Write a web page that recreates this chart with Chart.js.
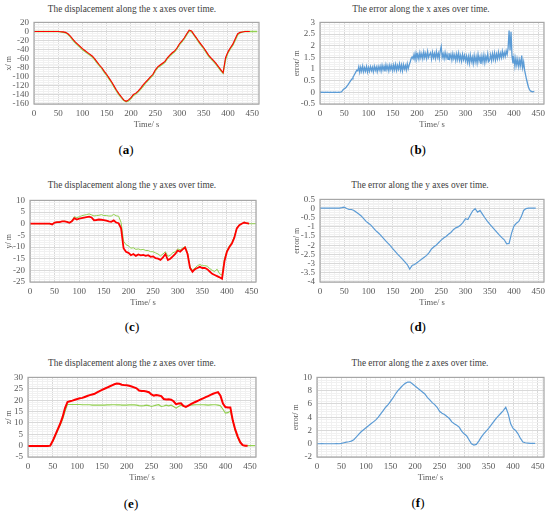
<!DOCTYPE html>
<html>
<head>
  <meta charset="UTF-8">
  <script src="https://cdn.jsdelivr.net/npm/chart.js"></script>
  <title>Displacement and error</title>
  <style>
    body { margin: 0; background: #fff; width: 550px; height: 514px; position: relative; overflow: hidden;
           font-family: "Liberation Serif", "Times New Roman", serif; }
    .box { position: absolute; }
    .ttl { position: absolute; transform: translate(-50%, -50%); white-space: nowrap; font-size: 9.3px; color: #404040; }
    .lab { position: absolute; transform: translate(-50%, -50%); white-space: nowrap; font-size: 13px; color: #000; }
  </style>
</head>
<body>
  <div class="ttl" style="left:132px;top:9px">The displacement along the x axes over time.</div>
  <div class="ttl" style="left:421px;top:9px">The error along the x axes over time.</div>
  <div class="ttl" style="left:132px;top:185px">The displacement along the y axes over time.</div>
  <div class="ttl" style="left:420px;top:185px">The error along the y axes over time.</div>
  <div class="ttl" style="left:132px;top:363px">The displacement along the z axes over time.</div>
  <div class="ttl" style="left:420px;top:363px">The error along the z axes over time.</div>

  <div class="lab" style="left:126px;top:150px">(<b>a</b>)</div>
  <div class="lab" style="left:418px;top:150px">(<b>b</b>)</div>
  <div class="lab" style="left:132px;top:327px">(<b>c</b>)</div>
  <div class="lab" style="left:418px;top:327px">(<b>d</b>)</div>
  <div class="lab" style="left:131px;top:504px">(<b>e</b>)</div>
  <div class="lab" style="left:418px;top:503px">(<b>f</b>)</div>

  <div class="box" id="pa"><canvas id="ca"></canvas></div>
  <div class="box" id="pb"><canvas id="cb"></canvas></div>
  <div class="box" id="pc"><canvas id="cc"></canvas></div>
  <div class="box" id="pd"><canvas id="cd"></canvas></div>
  <div class="box" id="pe"><canvas id="ce"></canvas></div>
  <div class="box" id="pf"><canvas id="cf"></canvas></div>

  <script>
    // tick labels
    const xTicks = [0, 50, 100, 150, 200, 250, 300, 350, 400, 450];
    const yTicksA = [20, 0, -20, -40, -60, -80, -100, -120, -140, -160];
    const yTicksB = [3, 2.5, 2, 1.5, 1, 0.5, 0, -0.5];
    const yTicksC = [10, 5, 0, -5, -10, -15, -20, -25];
    const yTicksD = [0.5, 0, -0.5, -1, -1.5, -2, -2.5, -3, -3.5, -4];
    const yTicksE = [30, 25, 20, 15, 10, 5, 0, -5];
    const yTicksF = [10, 8, 6, 4, 2, 0, -2];

    // sampling of the series (s)
    const step5 = 5;
    const step2 = 2;

    // (a) x displacement, red = estimated, green = true
    const dispXEst = [0, 0, 0, 0, 0, 0, 0, 0, 0, 0, 0,
      -0.5, -1, -2, -5, -10, -17, -23, -28, -33, -38,
      -42, -46, -50, -54, -60, -67, -74, -80, -88, -95,
      -103, -111, -120, -129, -137, -144, -151, -154, -151, -146,
      -139, -136, -131, -125, -118, -112, -106, -100, -95, -85,
      -78, -74, -70, -66, -58, -52, -47, -43, -36, -27,
      -21, -14, -5, 3, 1, -7, -14, -22, -29, -36,
      -44, -52, -58, -64, -70, -77, -84, -91, -58, -45,
      -36, -28, -16, -5, -2, -1, 0, 0, 0];
    const dispXTrue = [0, 0, 0, 0, 0, 0, 0, 0, 0, 0, 0,
      -1, -2, -3, -6, -12, -19, -25, -30, -35, -40,
      -44, -48, -52, -56, -62, -69, -76, -82, -90, -97,
      -105, -113, -122, -131, -139, -146, -152, -155, -153, -148,
      -141, -138, -133, -127, -121, -114, -108, -102, -97, -87,
      -80, -76, -72, -68, -60, -54, -49, -45, -38, -29,
      -23, -16, -7, 1, -1, -8, -16, -24, -31, -38,
      -46, -54, -60, -66, -72, -79, -86, -92, -62, -47,
      -38, -30, -19, -7, -3, -1, 0, 0, 0, 0, 0, 0];

    // (b) error along x, 2 s samples
    const errX = [0, 0.01, 0, 0.01, 0, 0, 0.01, 0, 0.01, 0, 0, 0.01, 0, 0, 0.01, 0, 0.01, 0, 0, 0.01, 0, 0.01,
      0.02, 0.06, 0.12, 0.15, 0.18, 0.22, 0.28, 0.33, 0.40, 0.46, 0.52, 0.58, 0.65, 0.72, 0.80, 0.88, 0.95,
      0.92, 1.10, 0.86, 1.08, 0.90, 1.12, 0.88, 1.06, 0.91, 1.11, 0.87, 1.07,
      0.90, 1.10, 0.93, 1.08, 0.88, 1.12, 0.94, 1.09, 0.89, 1.11, 0.95, 1.12,
      0.91, 1.16, 0.96, 1.12, 0.90, 1.18, 0.97, 1.14, 0.92, 1.17, 0.98, 1.15, 0.93,
      1.17, 0.97, 1.20, 0.94, 1.15, 0.99, 1.22, 0.95, 1.17, 0.92, 1.19, 1.00, 1.15, 0.96, 1.23, 1.02, 1.18,
      1.30, 1.45, 1.52,
      1.44, 1.64, 1.41, 1.68, 1.46, 1.63, 1.42, 1.70, 1.48, 1.66, 1.44, 1.73, 1.49, 1.67, 1.45, 1.75, 1.50,
      1.62, 1.70, 1.43, 1.72, 1.49, 1.67, 1.45, 1.74, 1.50, 1.68, 1.44, 1.78,
      1.97, 1.50,
      1.66, 1.44, 1.71, 1.47, 1.64, 1.42, 1.68, 1.46, 1.63, 1.39, 1.66, 1.44, 1.61, 1.36, 1.64, 1.41,
      1.68, 1.38, 1.58, 1.34, 1.63, 1.40, 1.59, 1.35,
      1.56, 1.29, 1.54, 1.25, 1.60, 1.32, 1.51, 1.23, 1.58, 1.30, 1.53, 1.26, 1.63, 1.34, 1.52, 1.22,
      1.56, 1.31, 1.60, 1.27, 1.54, 1.36, 1.65, 1.32,
      1.39, 1.62, 1.36, 1.66, 1.42, 1.69, 1.39, 1.64, 1.44, 1.72, 1.46, 1.68, 1.49, 1.76, 1.52, 1.71, 1.54, 1.78, 1.62,
      1.90, 2.65, 1.80, 2.60, 1.55,
      1.24, 1.50, 1.12, 1.46, 1.16, 1.41, 1.10, 1.38, 1.14, 1.58, 1.06, 1.30,
      0.95, 0.75, 0.55, 0.38, 0.22, 0.12, 0.06, 0.04, 0.02, 0.03, 0.04];

    // (c) y displacement
    const dispYEst = [0, 0, 0, 0, 0, 0, 0, 0, 0, -0.3,
      0.5, 0.7, 0.7, 1.0, 1.0, 0.8, 0.4, 1.0, 2.4, 1.8,
      2.2, 2.4, 2.6, 2.8, 3.0, 2.7, 1.5, 1.6, 1.8, 1.7,
      1.5, 1.3, 1.0, 0.8, 1.4, 0.5, 0.2, -2, -10.5, -12,
      -12.5, -13.5, -13, -13.8, -13.2, -13.6, -13.4, -13.8, -13.5, -14.2,
      -14, -14.8, -15, -15.5, -14.5, -13, -15.6, -15, -14, -13,
      -11.5, -12, -11, -10.2, -13, -19, -20.6, -19.5, -19, -18.5,
      -19, -19, -19.5, -20.5, -21.5, -22, -22.5, -23, -23.6, -16,
      -12, -10, -8.5, -6, -2, -0.6, 0, 0.5, 0.2, 0];
    const dispYTrue = [0, 0, 0, 0, 0, 0, 0, 0, 0, -0.2,
      0.4, 0.6, 0.8, 1.0, 1.1, 0.9, 0.5, 1.2, 3.0, 2.6,
      3.0, 3.4, 3.7, 3.9, 4.2, 3.8, 3.3, 3.5, 3.6, 3.9,
      3.5, 3.5, 3.3, 3.3, 4.0, 3.4, 3.2, 0.5, -7.5, -9,
      -9.5, -10.5, -10.3, -11, -10.8, -11.2, -11, -11.5, -11.5, -12,
      -12, -12.5, -13, -13.8, -13, -12, -14, -13.5, -12.5, -12,
      -10.8, -11.2, -10.5, -9.8, -12.5, -18.5, -20, -19, -18, -17.5,
      -18, -18, -18.2, -19.2, -20, -20.5, -19.5, -21.5, -22, -15,
      -11.5, -9.5, -8, -5.5, -1.8, -0.5, 0, 0.6, 0.3, 0,
      0, 0, 0];

    // (d) error along y
    const errY = [0.03, 0.03, 0.02, 0.03, 0.02, 0.03, 0.02, 0.03, 0.03, 0.05,
      0.08, 0.0, -0.05, -0.05, -0.1, -0.2, -0.3, -0.4, -0.55, -0.7,
      -0.8, -0.9, -1.05, -1.2, -1.32, -1.45, -1.6, -1.75, -1.88, -2.02,
      -2.18, -2.33, -2.48, -2.62, -2.75, -2.9, -3.05, -3.3, -3.1, -3.05,
      -2.95, -2.85, -2.75, -2.65, -2.55, -2.4, -2.2, -2.08, -1.98, -1.85,
      -1.72, -1.6, -1.52, -1.4, -1.3, -1.15, -1.05, -1.0, -0.9, -0.75,
      -0.55, -0.6, -0.35, -0.12, 0.0, -0.2, -0.1, -0.3, -0.5, -0.68,
      -0.85, -1.0, -1.15, -1.3, -1.45, -1.58, -1.7, -1.92, -1.9, -1.35,
      -0.95, -0.8, -0.7, -0.45, -0.1, 0.0, 0.02, 0.03, 0.03, 0.03];

    // (e) z displacement
    const dispZEst = [-0.2, -0.2, -0.2, -0.2, -0.2, -0.2, -0.2, -0.2, -0.2, 0,
      2, 4.5, 7, 9.5, 12.5, 16.5, 19.2, 19.5, 19.8, 20.2,
      20.5, 20.8, 21, 21.4, 21.8, 22.2, 22.5, 22.8, 23.4, 24,
      24.5, 25, 25.5, 26, 26.5, 27, 27.3, 27.2, 26.8, 26.6,
      26.5, 26.3, 26, 25.6, 25.2, 24.2, 24, 24, 23.8, 23.5,
      22.5, 22, 22.2, 22, 21.8, 20.5, 20.3, 20.4, 20.2, 19.5,
      18.2, 18.5, 18.6, 17.5, 17, 17.6, 18.2, 18.8, 19.3, 19.8,
      20.3, 20.8, 21.3, 21.8, 22.3, 22.8, 23.2, 23.5, 22, 18.5,
      17, 16.8, 16.8, 11, 7, 4, 1.5, 0.2, 0, 0];
    const dispZTrue = [0, 0, 0, 0, 0, 0, 0, 0, 0, 0,
      1.8, 4, 6.5, 9, 11.5, 15, 18.2, 18.1, 18.1, 18.1,
      18.1, 18.1, 18, 18, 18, 18, 17.8, 17.8, 17.8, 17.8,
      17.8, 17.8, 17.9, 17.9, 18, 18, 17.9, 18, 17.8, 17.8,
      17.8, 17.9, 18, 17.9, 17.8, 17.6, 17.5, 17.6, 17.8, 17.6,
      17.2, 17.5, 17.8, 18, 17.2, 17.4, 17.8, 17.5, 17.8, 17.2,
      16.5, 17.2, 17.8, 17.3, 17, 17.6, 17.8, 17.9, 18, 18,
      18, 18, 17.9, 17.8, 17.9, 18, 18, 17.8, 17.5, 16,
      14.3, 14.5, 15.2, 11, 6.5, 3.5, 1.2, 0.1, 0, 0,
      0, 0, 0];

    // (f) error along z
    const errZ = [0, 0, 0.02, 0, 0, 0, 0, 0, 0.02, 0,
      0.05, 0.15, 0.25, 0.3, 0.4, 0.6, 1.0, 1.4, 1.8, 2.1,
      2.4, 2.7, 3.0, 3.3, 3.6, 4.0, 4.5, 5.0, 5.5, 5.9,
      6.4, 6.9, 7.5, 8.0, 8.4, 8.8, 9.1, 9.3, 9.3, 9.0,
      8.7, 8.4, 8.1, 7.8, 7.5, 7.0, 6.6, 6.2, 5.9, 5.5,
      4.9, 4.6, 4.4, 4.1, 3.8, 3.3, 3.0, 2.8, 2.5, 1.9,
      1.5, 1.2, 0.6, 0.0, -0.2, -0.1, 0.4, 1.0, 1.5, 1.9,
      2.3, 2.8, 3.3, 3.8, 4.2, 4.6, 5.0, 5.5, 4.5, 3.0,
      2.3, 2.0, 1.5, 0.8, 0.25, 0.15, 0.1, 0.05, 0.05, 0.05];

    const RED = '#ff0000', GREEN = '#92d050', BLUE = '#5b9bd5';
    const FONT = '"Liberation Serif", "Times New Roman", serif';

    function toXY(step, vals) {
      return vals.map((v, i) => ({ x: i * step, y: v }));
    }

    function near(list, v) {
      return list.some(t => Math.abs(t - v) < 1e-6);
    }

    function gridTicks(min, max, step) {
      const out = [];
      const n = Math.round((max - min) / step);
      for (let i = 0; i <= n; i++) out.push({ value: +(min + i * step).toFixed(6) });
      return out;
    }

    const plotBorder = {
      id: 'plotBorder',
      afterDraw(chart) {
        const a = chart.chartArea, c = chart.ctx;
        c.save();
        c.strokeStyle = '#a6a6a6';
        c.lineWidth = 1.2;
        c.strokeRect(a.left, a.top, a.right - a.left, a.bottom - a.top);
        c.restore();
      }
    };

    const panels = [
      { id: 'a', L: 34, T: 20, R: 259, B: 104, yw: 34, xMax: 464, yMin: -160, yMax: 20, yTicks: yTicksA, yMinor: 4, yTitle: 'x/ m',
        sets: [{ d: toXY(step5, dispXEst), c: RED, w: 1.1 }, { d: toXY(step5, dispXTrue), c: GREEN, w: 1.4 }] },
      { id: 'b', L: 320, T: 20, R: 544, B: 104, yw: 32, xMax: 462, yMin: -0.5, yMax: 3, yTicks: yTicksB, yMinor: 0.1, yTitle: 'error/ m',
        sets: [{ d: toXY(step2, errX), c: BLUE, w: 1.3 }] },
      { id: 'c', L: 30, T: 198, R: 256, B: 282, yw: 30, xMax: 459, yMin: -25, yMax: 10, yTicks: yTicksC, yMinor: 1, yTitle: 'y/ m',
        sets: [{ d: toXY(step5, dispYEst), c: RED, w: 1.8 }, { d: toXY(step5, dispYTrue), c: GREEN, w: 1 }] },
      { id: 'd', L: 320, T: 197, R: 544, B: 282, yw: 32, xMax: 462, yMin: -4, yMax: 0.5, yTicks: yTicksD, yMinor: 0.1, yTitle: 'error/ m',
        sets: [{ d: toXY(step5, errY), c: BLUE, w: 1.2 }] },
      { id: 'e', L: 28, T: 375, R: 256, B: 457, yw: 28, xMax: 462, yMin: -5, yMax: 30, yTicks: yTicksE, yMinor: 1, yTitle: 'z/ m',
        sets: [{ d: toXY(step5, dispZEst), c: RED, w: 2 }, { d: toXY(step5, dispZTrue), c: GREEN, w: 1.1 }] },
      { id: 'f', L: 317, T: 375, R: 544, B: 457, yw: 30, xMax: 463, yMin: -2, yMax: 10, yTicks: yTicksF, yMinor: 0.4, yTitle: 'error/ m',
        sets: [{ d: toXY(step5, errZ), c: BLUE, w: 1.2 }] }
    ];

    const PAD_TOP = 8, PAD_RIGHT = 6, X_AXIS_H = 29;

    panels.forEach(p => {
      const w = (p.R - p.L) + p.yw + PAD_RIGHT;
      const h = (p.B - p.T) + PAD_TOP + X_AXIS_H;
      const box = document.getElementById('p' + p.id);
      box.style.left = (p.L - p.yw) + 'px';
      box.style.top = (p.T - PAD_TOP) + 'px';
      box.style.width = w + 'px';
      box.style.height = h + 'px';
      const cv = document.getElementById('c' + p.id);
      cv.width = w;
      cv.height = h;
      cv.style.width = w + 'px';
      cv.style.height = h + 'px';

      new Chart(cv.getContext('2d'), {
        type: 'line',
        data: {
          datasets: p.sets.map(s => ({
            data: s.d,
            borderColor: s.c,
            borderWidth: s.w,
            pointRadius: 0,
            fill: false,
            tension: 0
          }))
        },
        options: {
          responsive: false,
          animation: false,
          layout: { padding: { top: PAD_TOP, right: PAD_RIGHT, left: 0, bottom: 0 } },
          plugins: { legend: { display: false }, tooltip: { enabled: false } },
          scales: {
            x: {
              type: 'linear',
              min: 0,
              max: p.xMax,
              afterBuildTicks: s => { s.ticks = gridTicks(0, 460, 10); },
              afterFit: s => { s.height = X_AXIS_H; },
              border: { display: false },
              grid: {
                drawTicks: false,
                lineWidth: 1,
                color: ctx => near(xTicks, ctx.tick.value) ? '#d9d9d9' : '#f1f1f1'
              },
              ticks: {
                autoSkip: false,
                maxRotation: 0,
                padding: 4,
                color: '#595959',
                font: { family: FONT, size: 9 },
                callback: v => near(xTicks, v) ? String(v) : ''
              },
              title: {
                display: true,
                text: 'Time/ s',
                color: '#595959',
                font: { family: FONT, size: 8.5 },
                padding: { top: 2, bottom: 3 }
              }
            },
            y: {
              type: 'linear',
              min: p.yMin,
              max: p.yMax,
              afterBuildTicks: s => { s.ticks = gridTicks(p.yMin, p.yMax, p.yMinor); },
              afterFit: s => { s.width = p.yw; },
              border: { display: false },
              grid: {
                drawTicks: false,
                lineWidth: 1,
                color: ctx => near(p.yTicks, ctx.tick.value) ? '#d9d9d9' : '#f1f1f1'
              },
              ticks: {
                autoSkip: false,
                padding: 5,
                color: '#595959',
                font: { family: FONT, size: 9 },
                callback: v => near(p.yTicks, v) ? String(+v.toFixed(2)) : ''
              },
              title: {
                display: true,
                text: p.yTitle,
                color: '#595959',
                font: { family: FONT, size: 8 },
                padding: { top: 4, bottom: 2 }
              }
            }
          }
        },
        plugins: [plotBorder]
      });
    });
  </script>
</body>
</html>
